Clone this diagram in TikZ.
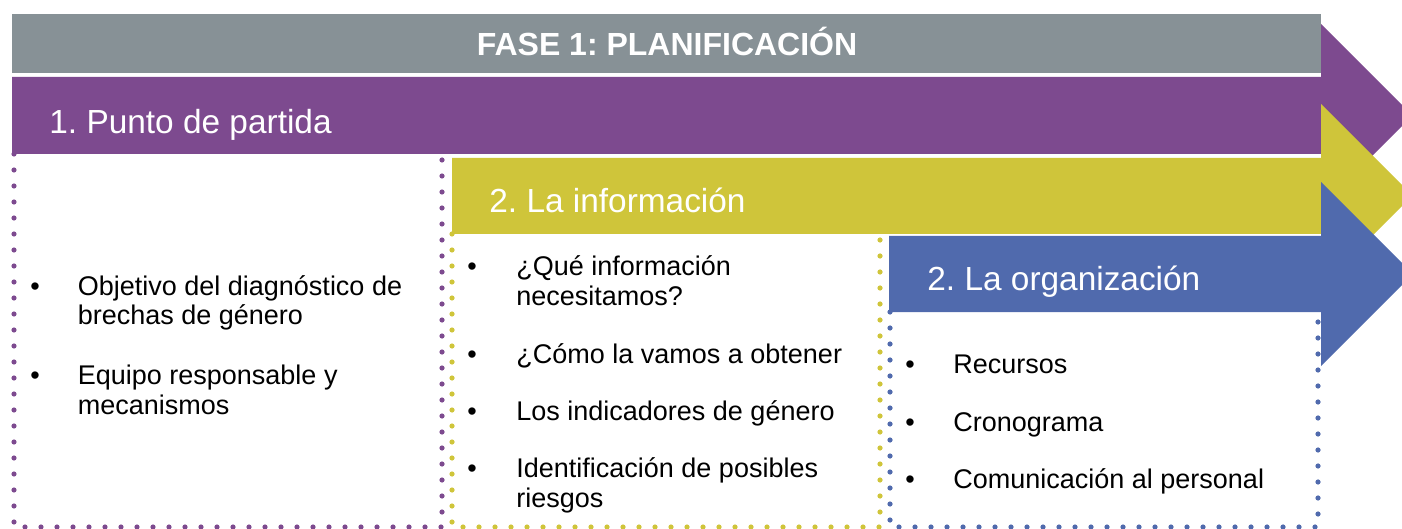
\documentclass[tikz,border=0pt]{standalone}
\usepackage{fontspec}
\setmainfont{Liberation Sans}
\frenchspacing
\definecolor{cgray}{HTML}{879196}
\definecolor{cpurple}{HTML}{7D4A8F}
\definecolor{cyellow}{HTML}{CFC53A}
\definecolor{cblue}{HTML}{506AAD}
\begin{document}
\begin{tikzpicture}[x=0.5pt,y=-0.5pt,
  dotbox/.style={line width=2.6pt,line cap=round,dash pattern=on 0pt off 8pt},
  body/.style={inner sep=0pt,anchor=base west,font=\fontsize{13.5}{14.5}\selectfont},
  bul/.style={inner sep=0pt,anchor=base,font=\fontsize{13.5}{14.5}\selectfont},
  head/.style={inner sep=0pt,anchor=base west,text=white,font=\fontsize{16.7}{18}\selectfont}]
\useasboundingbox (0,0) rectangle (1402,529);
\clip (0,0) rectangle (1402,529);
% dotted boxes
\draw[dotbox,cpurple] (14,154) -- (14,527) -- (442,527) -- (442,154);
\draw[dotbox,cyellow] (452,234) -- (452,527) -- (880,527) -- (880,234);
\draw[dotbox,cblue] (890,312) -- (890,527) -- (1318,527) -- (1318,312);
% bars
\fill[cgray] (12,14) rectangle (1321,73);
\fill[cpurple] (12,77) -- (1321,77) -- (1321,24) -- (1412.5,115.5) -- (1321,207) -- (1321,154) -- (12,154) -- cycle;
\fill[cyellow] (452,158) -- (1321,158) -- (1321,104) -- (1412.5,195.5) -- (1321,287) -- (1321,234) -- (452,234) -- cycle;
\fill[cblue] (889,236) -- (1321,236) -- (1321,182) -- (1413,274) -- (1321,366) -- (1321,312) -- (889,312) -- cycle;
% titles
\node[inner sep=0pt,anchor=base,text=white,font=\bfseries\fontsize{16}{18}\selectfont] (title) at (667,56) {FASE 1: PLANIFICACIÓN};
\node[head] (h1) at (49,134) {1. Punto de partida};
\node[head] (h2) at (489,212.5) {2. La información};
\node[head] (h3) at (927,291) {2. La organización};
% purple list
\node[bul] (pb1) at (35,295) {•};
\node[body] (p1a) at (77.5,295) {Objetivo del diagnóstico de};
\node[body] (p1b) at (77.5,324.5) {brechas de género};
\node[bul] (pb2) at (35,384) {•};
\node[body] (p2a) at (77.5,384) {Equipo responsable y};
\node[body] (p2b) at (77.5,414) {mecanismos};
% yellow list
\node[bul] (yb1) at (472,276) {•};
\node[body] (y1a) at (516,276) {¿Qué información};
\node[body] (y1b) at (516,306) {necesitamos?};
\node[bul] (yb2) at (472,363.7) {•};
\node[body] (y2) at (516,363.7) {¿Cómo la vamos a obtener};
\node[bul] (yb3) at (472,420) {•};
\node[body] (y3) at (516,420) {Los indicadores de género};
\node[bul] (yb4) at (472,477) {•};
\node[body] (y4a) at (516,477) {Identificación de posibles};
\node[body] (y4b) at (516,507) {riesgos};
% blue list
\node[bul] (bb1) at (910,373.5) {•};
\node[body] (b1) at (953,373.5) {Recursos};
\node[bul] (bb2) at (910,431.2) {•};
\node[body] (b2) at (953,431.2) {Cronograma};
\node[bul] (bb3) at (910,488.2) {•};
\node[body] (b3) at (953,488.2) {Comunicación al personal};
\end{tikzpicture}
\end{document}
